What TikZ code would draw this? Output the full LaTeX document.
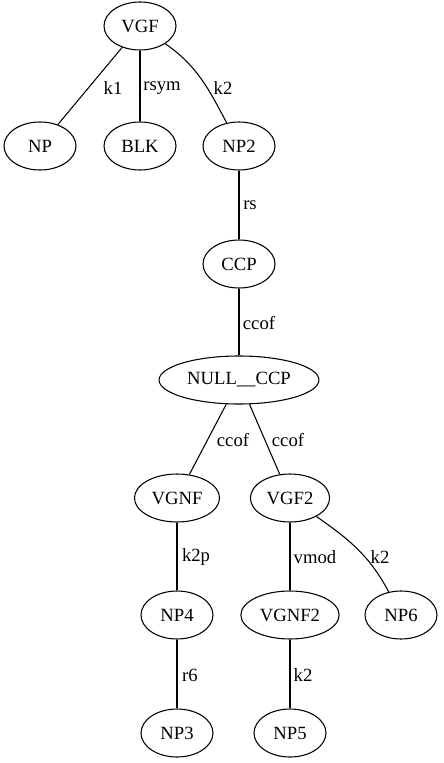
\documentclass[tikz,border=0pt]{standalone}
\usepackage{fontspec}
\setmainfont{Liberation Serif}
\usepackage{tikz}
\usetikzlibrary{shapes.geometric, positioning}

\tikzset{
    knoten/.style={draw, ellipse, line width=0.8pt, inner xsep=3.5pt, minimum width=54pt, minimum height=36pt, font=\fontsize{14}{16}\selectfont},
    kante/.style={font=\fontsize{14}{16}\selectfont, inner sep=0pt}
}

\begin{document}
\begin{tikzpicture}[x=0.75pt, y=-0.75pt, line width=0.8pt]

        \useasboundingbox (0, 0) rectangle (443, 763);

        % Knoten
        \node[knoten] (vgf) at (140, 26) {VGF};
        \node[knoten] (np) at (40, 146) {NP};
        \node[knoten] (blk) at (140, 146) {BLK};
        \node[knoten] (np2) at (239, 146) {NP2};
        \node[knoten] (ccp) at (239, 264) {CCP};
        \node[knoten] (nullccp) at (239, 380) {NULL\_\_CCP};
        \node[knoten] (vgnf) at (177, 498) {VGNF};
        \node[knoten] (vgf2) at (290, 498) {VGF2};
        \node[knoten] (np4) at (177, 615) {NP4};
        \node[knoten] (vgnf2) at (290, 615) {VGNF2};
        \node[knoten] (np6) at (401, 615) {NP6};
        \node[knoten] (np3) at (177, 733) {NP3};
        \node[knoten] (np5) at (290, 733) {NP5};

        % Kanten
        \draw (vgf) -- (np);
        \draw (vgf) -- (blk);
        \draw (vgf) to[out=-35, in=118] (np2);
        \draw (np2) -- (ccp);
        \draw (ccp) -- (nullccp);
        \draw (nullccp) -- (vgnf);
        \draw (nullccp) -- (vgf2);
        \draw (vgnf) -- (np4);
        \draw (vgf2) -- (vgnf2);
        \draw (vgf2) to[out=-35, in=118] (np6);
        \draw (np4) -- (np3);
        \draw (vgnf2) -- (np5);

        % Kantenbeschriftungen
        \node[kante] (lk1) at (113, 88) {k1};
        \node[kante] (lrsym) at (162, 88) {rsym};
        \node[kante] (lk2a) at (223, 88) {k2};
        \node[kante] (lrs) at (250, 205) {rs};
        \node[kante] (lccofa) at (259, 323) {ccof};
        \node[kante] (lccofb) at (233, 440) {ccof};
        \node[kante] (lccofc) at (288, 440) {ccof};
        \node[kante] (lk2p) at (196, 557) {k2p};
        \node[kante] (lvmod) at (315, 557) {vmod};
        \node[kante] (lk2b) at (380, 557) {k2};
        \node[kante] (lr6) at (190, 675) {r6};
        \node[kante] (lk2c) at (303, 675) {k2};

    \end{tikzpicture}
\end{document}
